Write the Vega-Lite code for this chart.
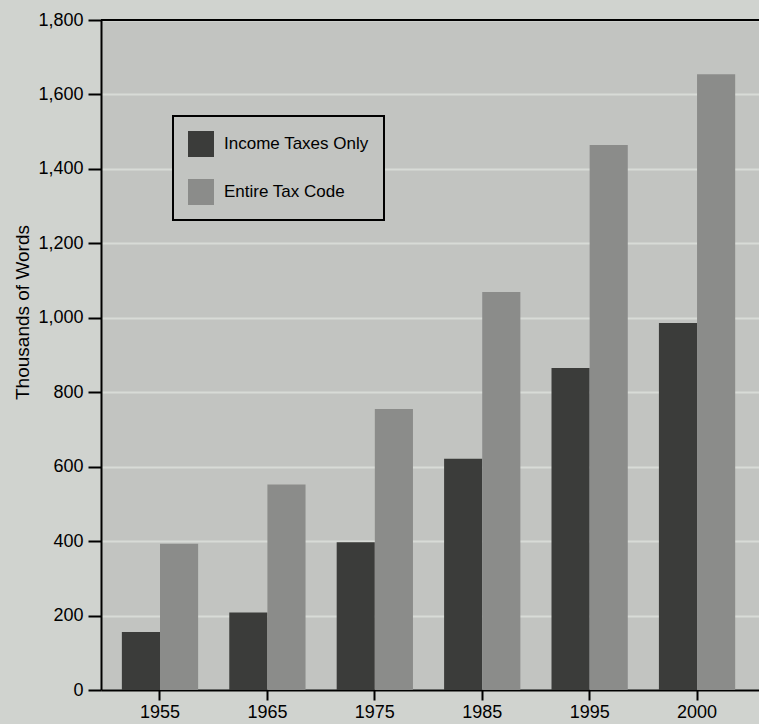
{
  "$schema": "https://vega.github.io/schema/vega-lite/v6.json",
  "width": 658,
  "height": 670,
  "autosize": {"type": "none"},
  "padding": {"left": 101, "top": 20, "right": 0, "bottom": 34},
  "background": "#d0d3cf",
  "config": {
    "view": {"fill": "#c2c4c1", "stroke": null},
    "font": "Liberation Sans",
    "legend": {"strokeWidth": 2}
  },
  "data": {
    "values": [
      {"year": "1955", "series": "Income Taxes Only", "words": 156},
      {"year": "1955", "series": "Entire Tax Code", "words": 393},
      {"year": "1965", "series": "Income Taxes Only", "words": 208},
      {"year": "1965", "series": "Entire Tax Code", "words": 552},
      {"year": "1975", "series": "Income Taxes Only", "words": 397},
      {"year": "1975", "series": "Entire Tax Code", "words": 755},
      {"year": "1985", "series": "Income Taxes Only", "words": 621},
      {"year": "1985", "series": "Entire Tax Code", "words": 1069},
      {"year": "1995", "series": "Income Taxes Only", "words": 865},
      {"year": "1995", "series": "Entire Tax Code", "words": 1464},
      {"year": "2000", "series": "Income Taxes Only", "words": 986},
      {"year": "2000", "series": "Entire Tax Code", "words": 1654}
    ]
  },
  "layer": [
    {
      "mark": {"type": "bar"},
      "encoding": {
        "x": {
          "field": "year",
          "type": "nominal",
          "scale": {"paddingInner": 0.29, "paddingOuter": 0.208, "align": 0.467},
          "axis": {
            "title": null,
            "labelAngle": 0,
            "labelFontSize": 18,
            "labelColor": "black",
            "labelPadding": 3,
            "tickSize": 10,
            "tickWidth": 2,
            "tickColor": "black",
            "domainColor": "black",
            "domainWidth": 2,
            "grid": false
          }
        },
        "xOffset": {
          "field": "series",
          "type": "nominal",
          "scale": {"domain": ["Income Taxes Only", "Entire Tax Code"], "paddingInner": 0, "paddingOuter": 0}
        },
        "y": {
          "field": "words",
          "type": "quantitative",
          "scale": {"domain": [0, 1800], "nice": false},
          "axis": {
            "values": [0, 200, 400, 600, 800, 1000, 1200, 1400, 1600, 1800],
            "format": ",.0f",
            "title": "Thousands of Words",
            "titleFontSize": 19,
            "titleFontWeight": "normal",
            "titleColor": "black",
            "titleX": -79,
            "titleY": 292,
            "titleAngle": -90,
            "titleAlign": "center",
            "titleBaseline": "middle",
            "labelFontSize": 18,
            "labelColor": "black",
            "labelPadding": 5,
            "tickSize": 13,
            "tickWidth": 2,
            "tickColor": "black",
            "domainColor": "black",
            "domainWidth": 2,
            "grid": true,
            "gridColor": "#d8dbd7",
            "gridWidth": 2
          }
        },
        "color": {
          "field": "series",
          "type": "nominal",
          "scale": {"domain": ["Income Taxes Only", "Entire Tax Code"], "range": ["#3b3c3a", "#8b8c8a"]},
          "legend": {
            "title": null,
            "orient": "none",
            "legendX": 72,
            "legendY": 96,
            "fillColor": "#c2c4c1",
            "strokeColor": "black",
            "padding": 15,
            "symbolType": "square",
            "symbolSize": 676,
            "symbolStrokeWidth": 0,
            "symbolOpacity": 1,
            "labelFontSize": 17,
            "labelColor": "black",
            "labelOffset": 10,
            "rowPadding": 22,
            "cornerRadius": 0
          }
        }
      }
    },
    {
      "data": {"values": [{}]},
      "mark": {"type": "rule", "color": "black", "strokeWidth": 2},
      "encoding": {"y": {"datum": 1800}}
    }
  ]
}
